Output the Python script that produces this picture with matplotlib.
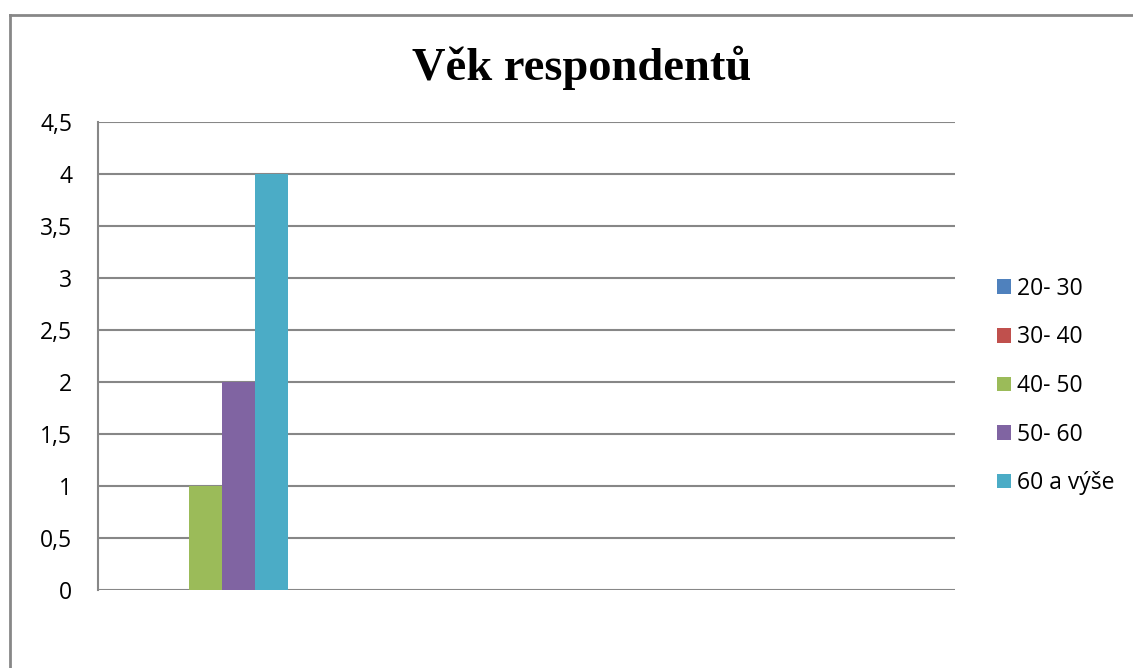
#Věk respondentů - sloupcový graf
import numpy as np
import matplotlib.pyplot as plt
from matplotlib.lines import Line2D

plt.rcParams['font.family'] = ['Open Sans', 'DejaVu Sans']

title = 'Věk respondentů'
categories = ['', '', '', '']
series = ['20- 30', '30- 40', '40- 50', '50- 60', '60 a výše']
values = [
    [0, 0, 0, 0],
    [0, 0, 0, 0],
    [1, 0, 0, 0],
    [2, 0, 0, 0],
    [4, 0, 0, 0],
]
colors = ['#4F81BD', '#C0504D', '#9BBB59', '#8064A2', '#4BACC6']
yticks = [0, 0.5, 1, 1.5, 2, 2.5, 3, 3.5, 4, 4.5]
ytick_labels = [('%g' % v).replace('.', ',') for v in yticks]

fig = plt.figure(figsize=(11.33, 6.68), dpi=100)
ax = fig.add_axes([98/1133, 1-590/668, (955-98)/1133, (590-122)/668])

x = np.arange(len(categories))
w = 1.0 / 6.5
for i, (name, vals) in enumerate(zip(series, values)):
    ax.bar(x - 2.5*w + i*w + w/2, vals, width=w, color=colors[i], label=name, zorder=3)

ax.set_xlim(-0.5, len(categories) - 0.5)
ax.set_ylim(0, 4.5)
ax.set_yticks(yticks)
ax.set_yticklabels(ytick_labels, fontsize=16.5)
ax.set_xticks([])
ax.tick_params(axis='y', length=0, pad=18.5)
ax.grid(axis='y', color='#878787', linewidth=1.5, zorder=0)
for s in ['top', 'right', 'bottom']:
    ax.spines[s].set_visible(False)
ax.spines['left'].set_color('#878787')
ax.spines['left'].set_linewidth(1.5)

fig.text(582/1133, 1-68/668, title, fontsize=33.5, fontweight='bold',
         family='Liberation Serif', ha='center', va='center')

leg = fig.legend(loc='center left', bbox_to_anchor=(997/1133, 1-386/668),
                 frameon=False, fontsize=16.5, handlelength=0.62, handleheight=0.62,
                 handletextpad=0.25, labelspacing=1.07, borderpad=0, borderaxespad=0)

# rámeček grafu (oříznutý)
fig.add_artist(Line2D([10/1133, 1.0], [1-15/668, 1-15/668], transform=fig.transFigure,
                      color='#878787', linewidth=2))
fig.add_artist(Line2D([10/1133, 10/1133], [0, 1-15/668], transform=fig.transFigure,
                      color='#878787', linewidth=2))

plt.savefig('out.png')
